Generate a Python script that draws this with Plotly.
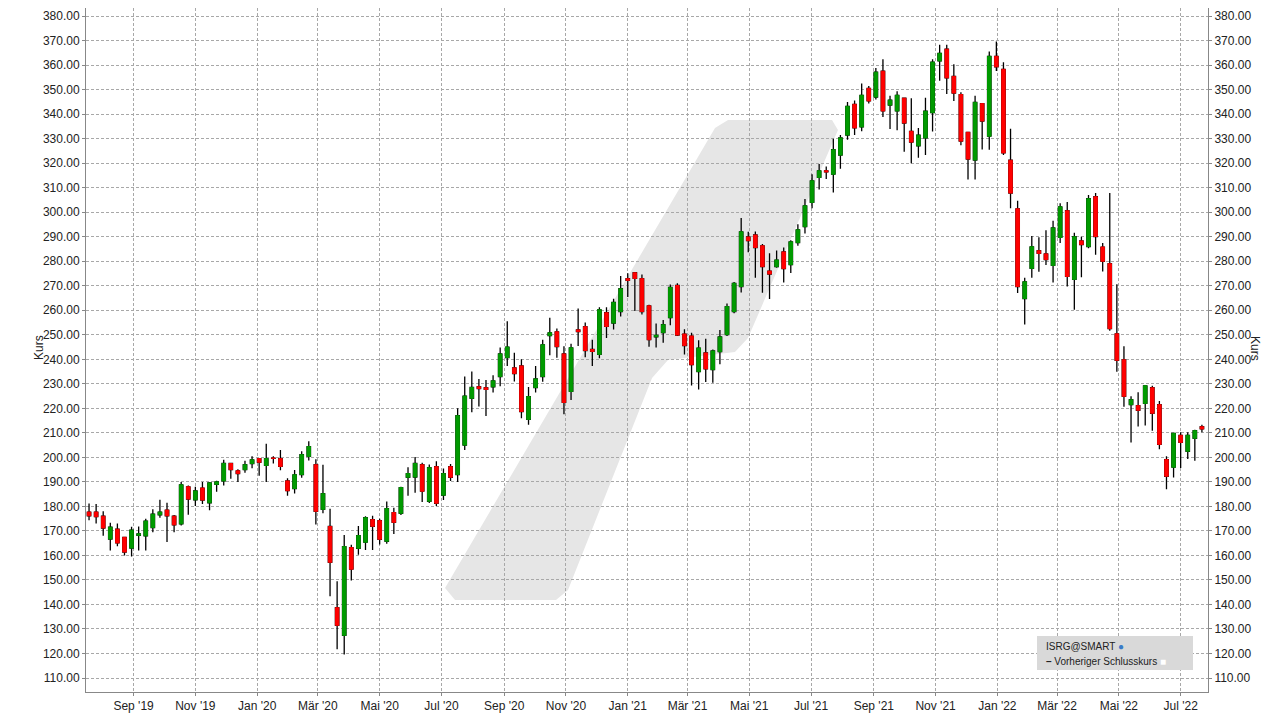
import pandas as pd
import plotly.graph_objects as go

dates = pd.date_range("2019-07-19", periods=158, freq="7D")
opens = [177.7,177.7,176,166.7,170.7,167.4,163,168.2,168,171.4,176.6,178.5,176,172.9,188,182.7,187.5,181.5,189,190.4,
197.5,194.5,195,197.5,199.5,196.7,199.7,199.5,190.4,187.3,193,200.4,197,178.8,171.8,138.7,127.4,163.2,162.9,165.4,
174.6,174.2,165.8,177.5,177.2,191.9,192,197,182.1,196.2,184.6,196.2,193,205,224.1,228.8,228.4,228.8,233,240.7,
236.5,237.3,215.5,228.5,233,249.7,251.2,242.2,226.9,252,253.3,244,242,259,254.8,259.5,272.9,275.3,272.9,261.8,
249.2,250.9,257,270.1,250.3,249.5,235,242.6,235.8,243.1,250.1,259.5,269.7,289.9,290.7,286.3,276,277.8,283.8,278.6,
287.6,294.1,304,314.2,316.9,315.5,323.3,331.5,344,334.8,350.5,347,357.5,343.7,341.3,346.5,333,327.1,330.3,340.6,
361.7,366.5,355.4,348,332.6,321.3,344.3,331,363.6,358.3,321.2,301.4,264.8,277.1,284.3,283,278.3,289.7,300.6,272.6,
288.3,286,306.3,285.8,279,250.4,239.8,221.5,221.1,222,228.4,221.5,199.1,196,209,202.5,207.8,212.5]
highs = [181.2,181,178,173.3,173,167.6,171.7,171.8,175,178.8,182.7,181.5,176.5,190,188.5,188,190,190,190.5,199,
197.5,195.2,198.6,200.5,199.5,205.6,200.5,203,191.5,194.9,202.5,206.6,199.2,197,179,149.5,168.3,164.4,172,176,
176.2,175,182,179.5,188,196,200.2,197.8,197.1,198.4,195.5,197.3,220,233,235,232,231.6,233.5,244.8,255.5,
242.7,240,228.7,237.3,248,257,252.6,245.3,246.3,260.7,255,248,261.2,261.2,264.7,274,275.1,275.3,274.6,262.3,
254.6,256,270.5,271,252.3,250.8,247.8,248.4,244,252,262.8,271.5,297.6,292,292.1,287,283.3,284.4,285.6,288.6,
295.1,305.4,315.5,319.7,318.6,330,331.5,345,345.6,352.5,351.5,358.8,362.4,347.5,349.3,346.5,346.5,334.4,346.7,362.4,
368.3,368.3,360.4,348.9,332.6,347.5,344.3,365.6,369.6,361.2,334,304.7,273.3,290.3,289.8,292.6,296.5,303.7,304.2,291.6,
290,307,307.8,287.4,307.8,270.6,245.3,224.9,226.6,229.2,229.2,223,200.5,209.8,210.3,210.3,211.3,213.3]
lows = [174.4,173,168,162,163.7,160,159.6,162,162,169.5,175.4,165.5,169.5,172.2,176.6,180.2,181,178.4,186,188.5,
191.3,190,193.7,195.6,192.5,190,197.5,194.7,184.4,185.3,191.7,198.7,172.6,177.2,143.4,121.7,119.6,149.8,160.3,162.2,
162.2,164.5,164.8,168.7,176.5,184.4,185.6,181.8,181.4,180.2,182.6,190.4,190,203,218.4,220.8,216.9,226.5,229,237.3,
231,216,213.3,226.5,230.8,241.7,240.6,217.6,223.4,245.4,240.8,237.3,240.4,248.7,252.2,257.5,265.4,259.7,258.3,245.1,
244.8,246.8,253.9,249.5,242,229.3,227.7,230.7,230.4,238,249.5,258.8,267.3,283.7,273.3,267.2,264.6,277.4,271.3,275.2,
286.3,291.3,301.6,309.3,313.5,308,317.7,329.6,331.5,333,344.3,346,338.8,333.9,333.4,324.7,320,322.2,323.3,332.9,
353.6,348.2,345.4,327.3,313.3,313.3,325.6,325.5,357.6,323.3,301.6,267.1,254.2,273.3,275.7,278.5,271.3,287.4,269.7,260.2,
273.5,285.3,282.7,275.8,251.7,234.9,220.7,206.1,212.6,213,210.9,203.3,187,191.8,195.7,199.3,198.6,210.2]
closes = [176.2,175.8,171.2,171.5,165.1,161.4,170.3,168.8,174,176.8,177.7,176.2,172.5,188.8,183,186.3,182.6,189.6,190,197.5,
195,193.4,197,199,198,199.5,199.6,196.3,186.4,192.9,201.1,204.4,178,185.2,157.2,131.5,163.6,154.4,168.1,175.4,
171.9,166.6,179.1,173.5,187.7,193.4,197.5,186.2,195.8,181.3,193.4,191.9,217,225,228.5,228.1,227.7,231.2,242.2,245,
234.2,218.7,224.8,232,245.9,250.8,245.2,222.4,244.7,251.3,243.6,243.2,260.2,253.4,263.2,268.8,272.2,273,259.5,248,
249.8,254.1,269.3,249.9,245.6,237.8,244.6,236.1,243.4,249.1,261.5,271,292,288.4,285.6,277.8,274.8,280.5,277,287.9,
292.8,302.6,312.8,316.9,316.5,325.5,330.3,343.2,334.4,347.7,345.4,357.1,341.3,345.7,347.7,336.4,328.6,331.4,341.2,361.2,
364.8,354.8,348.6,329,321.7,344.8,337.2,363.6,359.3,324.2,307.8,269.7,271.6,285.9,283.2,280.7,293.6,302.2,273.8,290,
286.8,305.5,290.1,280,252.5,239.6,224.9,223.5,219.2,229.2,218,205.3,192.3,209.8,206.1,209,210.9,211.6]

tick_dates = ["2019-09-01","2019-11-01","2020-01-01","2020-03-01","2020-05-01","2020-07-01","2020-09-01","2020-11-01",
              "2021-01-01","2021-03-01","2021-05-01","2021-07-01","2021-09-01","2021-11-01","2022-01-01","2022-03-01",
              "2022-05-01","2022-07-01"]
tick_text = ["Sep '19","Nov '19","Jan '20","Mär '20","Mai '20","Jul '20","Sep '20","Nov '20","Jan '21","Mär '21",
             "Mai '21","Jul '21","Sep '21","Nov '21","Jan '22","Mär '22","Mai '22","Jul '22"]
y_ticks = list(range(110, 390, 10))

GREEN = "#009A00"
RED = "#FF0000"

fig = go.Figure()
fig.add_trace(go.Candlestick(x=dates, open=opens, high=highs, low=lows, close=closes,
    increasing=dict(line=dict(color="black", width=1.3), fillcolor="black"),
    decreasing=dict(line=dict(color="black", width=1.3), fillcolor="black"),
    whiskerwidth=0, hoverinfo="skip", showlegend=False))
top = [max(o, c) for o, c in zip(opens, closes)]
bot = [min(o, c) for o, c in zip(opens, closes)]
fig.add_trace(go.Candlestick(x=dates, open=opens, high=top, low=bot, close=closes,
    increasing=dict(line=dict(color=GREEN, width=1), fillcolor=GREEN),
    decreasing=dict(line=dict(color=RED, width=1), fillcolor=RED),
    whiskerwidth=0, showlegend=False))
fig.add_trace(go.Scatter(x=[dates[0]], y=[200], yaxis="y2", mode="markers",
                         marker=dict(opacity=0), showlegend=False, hoverinfo="skip"))

# page has 8px body margin; plot area on screen: x 86..1208, y 8..692
def P(px, py):
    return (px - 86) / 1122, (692 - py) / 684

pts = [(445, 588), (715, 128), (728, 120), (832, 120), (838, 130), (748, 338), (735, 352), (668, 360),
       (652, 378), (568, 590), (556, 600), (455, 600)]
path = "M " + " L ".join(f"{P(a,b)[0]:.4f},{P(a,b)[1]:.4f}" for a, b in pts) + " Z"
fig.add_shape(type="path", path=path, xref="paper", yref="paper", fillcolor="#E6E6E6",
              line=dict(width=0), layer="below")

x0, y1 = P(1037, 636)
x1, y0 = P(1193, 670)
fig.add_shape(type="rect", xref="paper", yref="paper", x0=x0, x1=x1, y0=y0, y1=y1,
              fillcolor="#D9D9D9", line=dict(width=0))
ax, ay = P(1044, 646)
fig.add_annotation(xref="paper", yref="paper", x=ax, y=ay, text="ISRG@SMART <span style='color:#3A7BC8'>●</span>",
                   showarrow=False, xanchor="left", yanchor="middle", font=dict(size=10, color="#222"))
ax, ay = P(1044, 661)
fig.add_annotation(xref="paper", yref="paper", x=ax, y=ay, text="<b>–</b> Vorheriger Schlusskurs <span style='color:#fff'>■</span>",
                   showarrow=False, xanchor="left", yanchor="middle", font=dict(size=10, color="#222"))
ax, ay = P(30, 348)
fig.add_annotation(xref="paper", yref="paper", x=ax, y=ay, text="Kurs", textangle=-90,
                   showarrow=False, font=dict(size=12, color="#222"))
ax, ay = P(1264, 348)
fig.add_annotation(xref="paper", yref="paper", x=ax, y=ay, text="Kurs", textangle=90,
                   showarrow=False, font=dict(size=12, color="#222"))

axis_common = dict(showgrid=True, gridcolor="#A8A8A8", griddash="3px,2px", gridwidth=1, automargin=False,
                   showline=True, linecolor="#888", mirror=True, ticks="outside", ticklen=3,
                   tickcolor="#888", tickfont=dict(size=12, color="#222"))
yr = [104.3, 383.3]
fig.update_layout(
    width=1281, height=719, paper_bgcolor="white", plot_bgcolor="white",
    margin=dict(l=78, r=81, t=0, b=35),
    font=dict(family="Liberation Sans, Arial, sans-serif"),
    boxmode="overlay",
    xaxis=dict(axis_common, range=["2019-07-16", "2022-07-28"], tickvals=tick_dates, ticktext=tick_text,
               rangeslider=dict(visible=False)),
    yaxis=dict(axis_common, range=yr, tickvals=y_ticks, ticktext=[f"{v:.2f}" for v in y_ticks]),
    yaxis2=dict(range=yr, overlaying="y", side="right", tickvals=y_ticks, automargin=False,
                ticktext=[f"{v:.2f}" for v in y_ticks], showgrid=False, ticks="outside", ticklen=3,
                tickcolor="#888", tickfont=dict(size=12, color="#222")),
)
fig.write_html("out.html")
